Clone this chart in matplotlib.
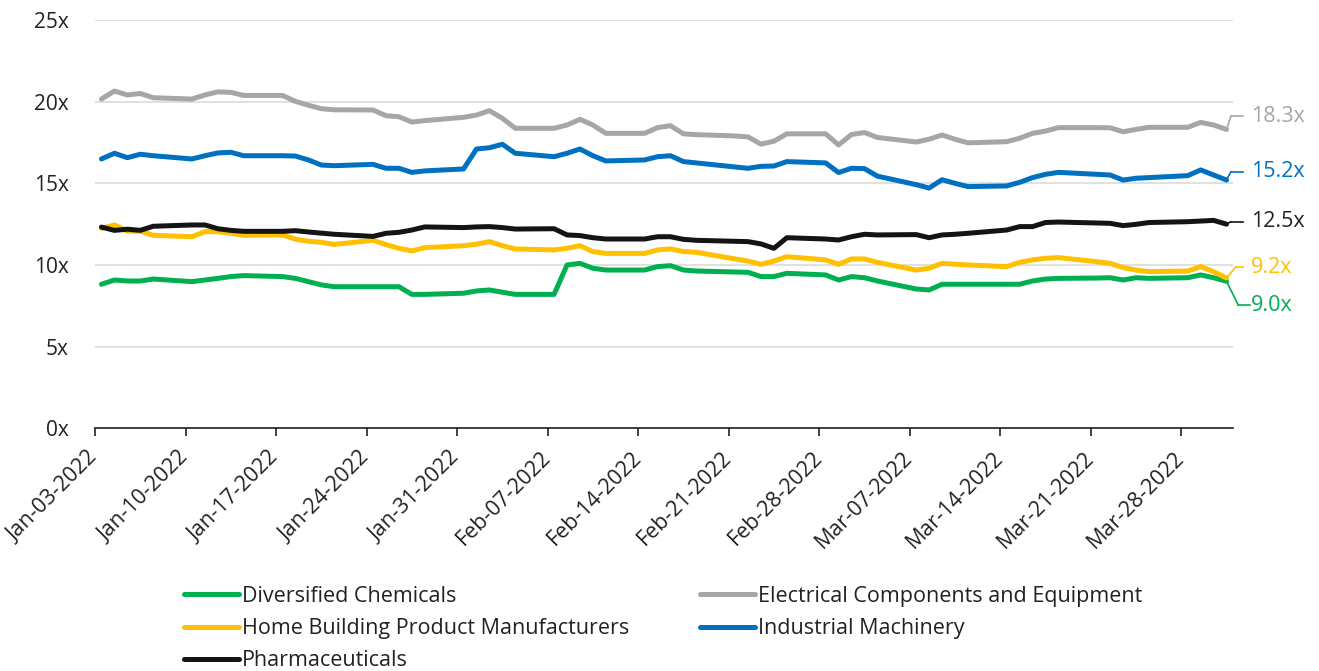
import matplotlib
matplotlib.use("Agg")
import matplotlib.pyplot as plt
import matplotlib.dates as mdates
import pandas as pd
import numpy as np

plt.rcParams['font.family'] = ['Open Sans', 'DejaVu Sans']

dates = pd.bdate_range('2022-01-03', '2022-03-31')

diversified_chemicals = [
    8.82, 9.08, 9.02, 9.02, 9.14,
    8.98, 9.08, 9.18, 9.29, 9.35,
    9.29, 9.18, 8.98, 8.78, 8.67,
    8.67, 8.67, 8.67, 8.20, 8.20,
    8.27, 8.41, 8.47, 8.33, 8.20,
    8.20, 10.00, 10.10, 9.80, 9.69,
    9.69, 9.90, 9.96, 9.69, 9.63,
    9.57, 9.55, 9.29, 9.29, 9.49,
    9.39, 9.08, 9.29, 9.22, 9.02,
    8.53, 8.47, 8.82, 8.82, 8.82,
    8.82, 8.82, 9.02, 9.14, 9.18,
    9.20, 9.22, 9.08, 9.22, 9.18,
    9.22, 9.39, 9.22, 9.00,
]
electrical_components = [
    20.16, 20.65, 20.41, 20.50, 20.24,
    20.16, 20.41, 20.60, 20.57, 20.38,
    20.38, 20.02, 19.78, 19.57, 19.50,
    19.49, 19.14, 19.08, 18.75, 18.84,
    19.04, 19.18, 19.45, 18.98, 18.37,
    18.37, 18.57, 18.92, 18.57, 18.06,
    18.06, 18.41, 18.53, 18.03, 17.98,
    17.90, 17.84, 17.40, 17.58, 18.03,
    18.03, 17.35, 17.99, 18.11, 17.81,
    17.53, 17.70, 17.96, 17.70, 17.48,
    17.55, 17.76, 18.06, 18.20, 18.41,
    18.41, 18.40, 18.16, 18.30, 18.43,
    18.43, 18.73, 18.57, 18.30,
]
home_building = [
    12.24, 12.45, 12.07, 12.07, 11.82,
    11.73, 12.04, 12.04, 11.94, 11.82,
    11.84, 11.58, 11.45, 11.39, 11.26,
    11.51, 11.25, 11.02, 10.86, 11.06,
    11.18, 11.27, 11.43, 11.18, 10.98,
    10.92, 11.02, 11.18, 10.82, 10.71,
    10.71, 10.92, 10.98, 10.82, 10.78,
    10.37, 10.24, 10.04, 10.24, 10.51,
    10.31, 10.04, 10.37, 10.37, 10.16,
    9.69, 9.80, 10.10, 10.05, 10.00,
    9.90, 10.16, 10.31, 10.41, 10.45,
    10.20, 10.10, 9.84, 9.69, 9.59,
    9.63, 9.90, 9.59, 9.20,
]
industrial_machinery = [
    16.49, 16.84, 16.57, 16.78, 16.69,
    16.49, 16.69, 16.86, 16.90, 16.69,
    16.69, 16.67, 16.43, 16.12, 16.08,
    16.16, 15.92, 15.92, 15.67, 15.76,
    15.88, 17.10, 17.18, 17.39, 16.84,
    16.63, 16.84, 17.10, 16.69, 16.37,
    16.43, 16.63, 16.69, 16.33, 16.25,
    16.00, 15.92, 16.04, 16.06, 16.33,
    16.25, 15.66, 15.92, 15.90, 15.44,
    14.92, 14.71, 15.22, 15.00, 14.80,
    14.84, 15.06, 15.35, 15.55, 15.67,
    15.55, 15.51, 15.20, 15.31, 15.35,
    15.47, 15.82, 15.51, 15.20,
]
pharmaceuticals = [
    12.32, 12.12, 12.19, 12.12, 12.37,
    12.45, 12.45, 12.22, 12.12, 12.06,
    12.06, 12.10, 12.02, 11.95, 11.88,
    11.75, 11.94, 12.00, 12.14, 12.33,
    12.29, 12.33, 12.35, 12.29, 12.20,
    12.22, 11.84, 11.80, 11.67, 11.59,
    11.59, 11.73, 11.73, 11.57, 11.51,
    11.45, 11.43, 11.29, 11.02, 11.67,
    11.59, 11.53, 11.73, 11.88, 11.84,
    11.86, 11.67, 11.84, 11.88, 11.94,
    12.14, 12.35, 12.35, 12.60, 12.63,
    12.57, 12.55, 12.41, 12.49, 12.60,
    12.65, 12.69, 12.73, 12.50,
]

series_names = ["Diversified Chemicals", "Electrical Components and Equipment",
                "Home Building Product Manufacturers", "Industrial Machinery",
                "Pharmaceuticals"]
series_values = [diversified_chemicals, electrical_components, home_building,
                 industrial_machinery, pharmaceuticals]
colors = ["#00B050", "#A6A6A6", "#FFC000", "#0070C0", "#141414"]
end_labels = ["9.0x", "18.3x", "9.2x", "15.2x", "12.5x"]
yticks = [0, 5, 10, 15, 20, 25]

W, H = 1319, 671
fig = plt.figure(figsize=(W / 100, H / 100), dpi=100)
ax = fig.add_axes([95 / W, 1 - 428.3 / H, (1233 - 95) / W, (428.3 - 20) / H])

xpos = dates + pd.Timedelta(hours=12)
lines = {}
for name, vals, c in zip(series_names, series_values, colors):
    ln, = ax.plot(xpos, vals, color=c, lw=3.6, solid_joinstyle='round',
                  solid_capstyle='round', label=name, zorder=3)
    lines[name] = ln

ax.set_xlim(pd.Timestamp('2022-01-03'), pd.Timestamp('2022-04-01'))
ax.set_ylim(0, 25)
ax.set_yticks(yticks)
ax.set_yticklabels([f"{t}x" for t in yticks])
ax.yaxis.grid(True, color='#D9DEDE', lw=1.3)
ax.set_axisbelow(True)
for s in ['top', 'right', 'left']:
    ax.spines[s].set_visible(False)
ax.spines['bottom'].set_color('#222222')
ax.spines['bottom'].set_linewidth(1.2)
ax.tick_params(axis='y', length=0, pad=19, labelsize=15, labelcolor='#222222')

ticks = pd.date_range('2022-01-03', '2022-03-28', freq='7D')
ax.set_xticks(ticks)
ax.set_xticklabels([t.strftime('%b-%d-%Y') for t in ticks])
ax.tick_params(axis='x', length=6, width=1.2, color='#222222', direction='out',
               pad=13, labelsize=15.5, labelcolor='#222222')
for lab in ax.get_xticklabels():
    lab.set_rotation(45)
    lab.set_ha('right')
    lab.set_va('center')
    lab.set_rotation_mode('anchor')

# end labels with leader lines (offsets in pixels)
offsets = {
    "Electrical Components and Equipment": ((4.4, 13.3), (16.7, 13.3), (24.7, 13.3)),
    "Industrial Machinery": ((4.4, 8.4), (16.7, 8.4), (24.7, 8.4)),
    "Pharmaceuticals": ((4.4, 2.5), (16.7, 2.5), (24.7, 2.5)),
    "Home Building Product Manufacturers": ((9.0, 10.8), (16.7, 10.8), (24.7, 10.8)),
    "Diversified Chemicals": ((11.7, -23.7), (23.4, -23.7), (24.7, -23.7)),
}
for name, vals, c, lab in zip(series_names, series_values, colors, end_labels):
    x_end = xpos[-1]
    y_end = vals[-1]
    (e1, e2, t) = offsets[name]
    ax.annotate("", xy=(x_end, y_end), xytext=e1, textcoords='offset pixels',
                arrowprops=dict(arrowstyle='-', color=c, lw=1.2, shrinkA=0, shrinkB=0),
                annotation_clip=False)
    start = ax.transData.transform((mdates.date2num(x_end), y_end))
    p1 = start + np.array(e1)
    p2 = start + np.array(e2)
    fig.lines.append(plt.Line2D([p1[0] / W, p2[0] / W], [p1[1] / H, p2[1] / H],
                                transform=fig.transFigure, color=c, lw=1.2))
    ax.annotate(lab, xy=(x_end, y_end), xytext=t, textcoords='offset pixels',
                color=c if name != "Pharmaceuticals" else '#222222',
                fontsize=15.5, ha='left', va='center', annotation_clip=False)

order = ["Diversified Chemicals", "Home Building Product Manufacturers", "Pharmaceuticals",
         "Electrical Components and Equipment", "Industrial Machinery"]
leg = fig.legend([lines[n] for n in order], order, ncol=2, frameon=False,
                 loc='upper left', bbox_to_anchor=(184 / W, 1 - 586 / H),
                 fontsize=15.5, handlelength=2.55, handletextpad=0.14,
                 columnspacing=3.28, labelspacing=0.52, borderpad=0, borderaxespad=0)
for t in leg.get_texts():
    t.set_color('#222222')

fig.savefig('out.png', dpi=100)
